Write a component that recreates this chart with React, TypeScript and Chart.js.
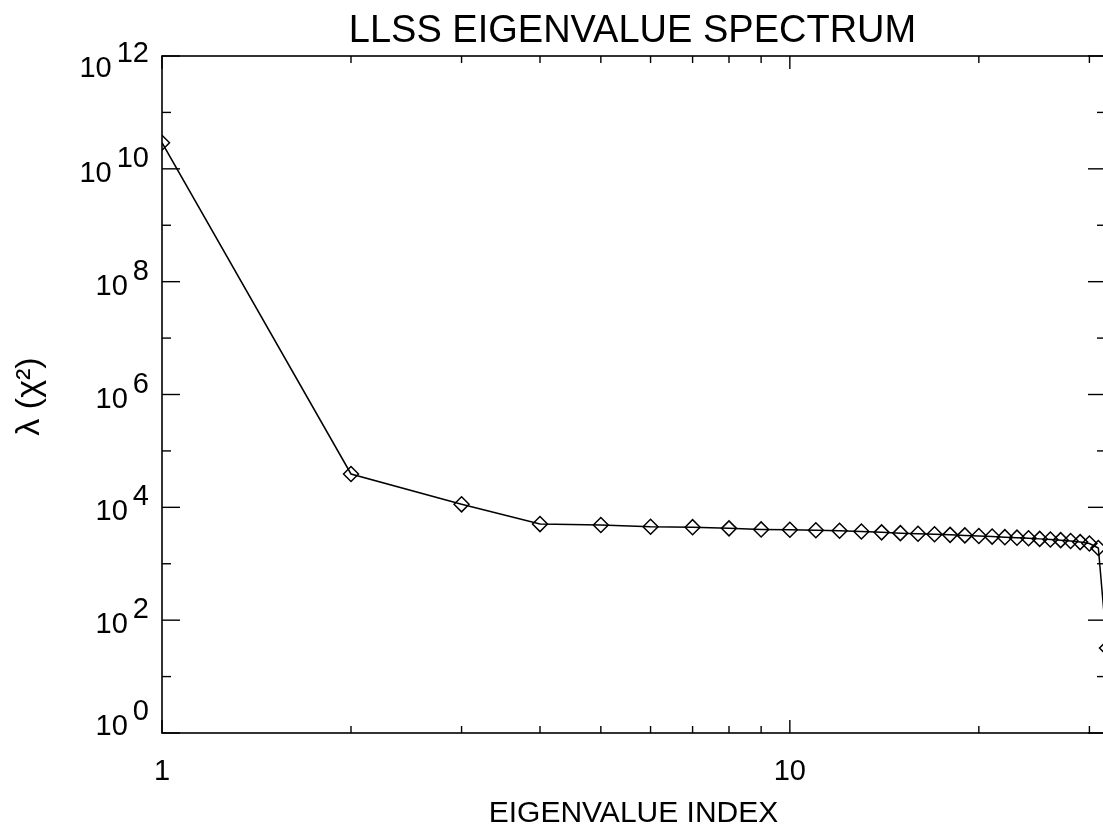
import React, { useEffect, useRef } from "react";
import { Chart, registerables } from "chart.js";

Chart.register(...registerables);

// ---- data ----
const eigenIndex = [1, 2, 3, 4, 5, 6, 7, 8, 9, 10, 11, 12, 13, 14, 15, 16, 17, 18, 19, 20, 21, 22, 23, 24, 25, 26, 27, 28, 29, 30, 31, 32];
const eigenValues = [
  2.9e10, 3.9e4, 1.13e4, 5050, 4850, 4520, 4450, 4240, 4060, 4000,
  3930, 3840, 3720, 3600, 3490, 3400, 3330, 3250, 3180, 3100,
  3030, 2960, 2900, 2830, 2760, 2690, 2620, 2530, 2420, 2280,
  1900, 32,
];

const xMajorTicks = [1, 10];
const xMajorLabels = ["1", "10"];
const xMinorTicks = [2, 3, 4, 5, 6, 7, 8, 9, 20, 30];
const yMajorTicks = [1, 1e2, 1e4, 1e6, 1e8, 1e10, 1e12];
const yMajorExponents = ["0", "2", "4", "6", "8", "10", "12"];
const yMinorTicks = [1e1, 1e3, 1e5, 1e7, 1e9, 1e11];

const titleText = "LLSS EIGENVALUE SPECTRUM";
const xTitleText = "EIGENVALUE INDEX";
const yTitleText = "λ (χ²)";

const FONT = '"DejaVu Sans ExtraLight", "Liberation Sans", Arial, sans-serif';

const framePlugin = {
  id: "idlFrame",
  afterDraw(chart: any) {
    const { ctx, chartArea: ca, scales } = chart;
    const xs = scales.x;
    const ys = scales.y;
    ctx.save();
    ctx.strokeStyle = "#000";
    ctx.fillStyle = "#000";
    ctx.lineWidth = 1.6;
    ctx.strokeRect(ca.left, ca.top, ca.right - ca.left, ca.bottom - ca.top);

    ctx.lineWidth = 1.4;
    const line = (x1: number, y1: number, x2: number, y2: number) => {
      ctx.beginPath();
      ctx.moveTo(x1, y1);
      ctx.lineTo(x2, y2);
      ctx.stroke();
    };
    // y ticks (left and right, inward)
    yMajorTicks.forEach((v) => {
      const py = ys.getPixelForValue(v);
      line(ca.left, py, ca.left + 18, py);
      line(ca.right, py, ca.right - 19, py);
    });
    yMinorTicks.forEach((v) => {
      const py = ys.getPixelForValue(v);
      line(ca.left, py, ca.left + 9, py);
      line(ca.right, py, ca.right - 10, py);
    });
    // x ticks (bottom and top, inward)
    xMajorTicks.forEach((v) => {
      const px = xs.getPixelForValue(v);
      line(px, ca.bottom, px, ca.bottom - 13);
      line(px, ca.top, px, ca.top + 13);
    });
    xMinorTicks.forEach((v) => {
      const px = xs.getPixelForValue(v);
      line(px, ca.bottom, px, ca.bottom - 7);
      line(px, ca.top, px, ca.top + 7);
    });

    // y tick labels with exponents
    ctx.font = `29px ${FONT}`;
    ctx.textBaseline = "alphabetic";
    const last = yMajorTicks.length - 1;
    yMajorTicks.forEach((v, i) => {
      const py = ys.getPixelForValue(v);
      let shift = 0;
      if (i === 0) shift = -11;
      if (i === last) shift = 8;
      const baseY = py + 13 + shift;
      const exp = yMajorExponents[i];
      ctx.textAlign = "right";
      const rightX = ca.left - 13;
      ctx.fillText(exp, rightX, baseY - 15);
      const ew = ctx.measureText(exp).width;
      ctx.fillText("10", rightX - ew - 5, baseY);
    });

    // x tick labels
    ctx.textAlign = "center";
    xMajorTicks.forEach((v, i) => {
      const px = xs.getPixelForValue(v);
      ctx.fillText(xMajorLabels[i], px, 780);
    });

    // x axis title
    const cx = (ca.left + ca.right) / 2;
    ctx.font = `30px ${FONT}`;
    ctx.fillText(xTitleText, cx - 1, 822);

    // chart title
    ctx.font = `38px ${FONT}`;
    ctx.fillText(titleText, cx - 2, 42);

    // y axis title (rotated)
    ctx.font = `34px ${FONT}`;
    ctx.save();
    ctx.translate(30, (ca.top + ca.bottom) / 2 + 2);
    ctx.rotate(-Math.PI / 2);
    ctx.textAlign = "center";
    ctx.textBaseline = "middle";
    ctx.fillText(yTitleText, 0, 0);
    ctx.restore();

    ctx.restore();
  },
};

export default function App() {
  const canvasRef = useRef<HTMLCanvasElement | null>(null);

  useEffect(() => {
    const canvas = canvasRef.current;
    if (!canvas) return;
    const points = eigenIndex.map((x, i) => ({ x, y: eigenValues[i] }));
    const chart = new Chart(canvas, {
      type: "line",
      data: {
        datasets: [
          {
            data: points,
            borderColor: "#000",
            borderWidth: 1.5,
            pointStyle: "rectRot",
            pointRadius: 7.5,
            pointBorderColor: "#000",
            pointBackgroundColor: "rgba(0,0,0,0)",
            pointBorderWidth: 1.5,
            tension: 0,
            fill: false,
          },
        ],
      },
      options: {
        animation: false,
        responsive: false,
        devicePixelRatio: 1,
        events: [],
        layout: { padding: { left: 162, top: 56, right: 13, bottom: 97 } },
        plugins: {
          legend: { display: false },
          tooltip: { enabled: false },
          title: { display: false },
        },
        scales: {
          x: { type: "logarithmic", min: 1, max: 32, display: false },
          y: { type: "logarithmic", min: 1, max: 1e12, display: false },
        },
      },
      plugins: [framePlugin],
    });
    return () => chart.destroy();
  }, []);

  return (
    <div
      style={{
        position: "fixed",
        left: 0,
        top: 0,
        width: 1103,
        height: 830,
        overflow: "hidden",
        background: "#fff",
      }}
    >
      <canvas ref={canvasRef} width={1120} height={830} style={{ display: "block" }} />
    </div>
  );
}
